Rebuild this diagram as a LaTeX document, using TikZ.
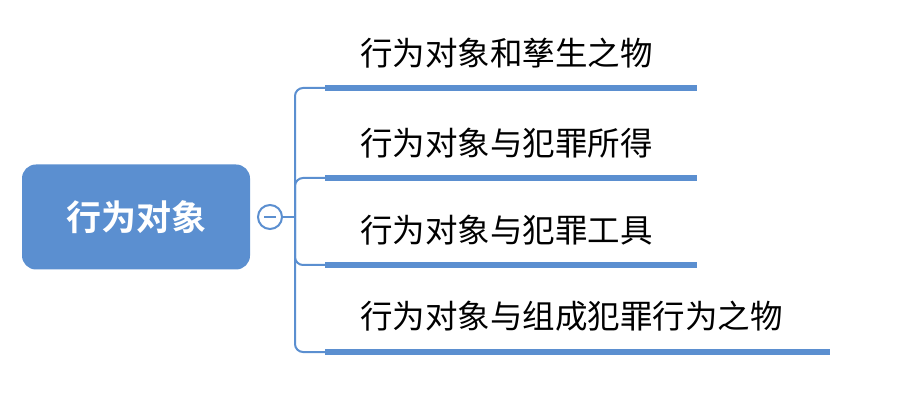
\documentclass[tikz,border=0pt]{standalone}
\usepackage{fontspec}
\newfontfamily\cjk{Noto Sans CJK SC}
\newfontfamily\cjkbold{Noto Sans CJK SC Bold}
\usetikzlibrary{positioning}
\definecolor{mapblue}{HTML}{5B8FD0}
\begin{document}
\begin{tikzpicture}[x=1pt,y=-1pt]
  \tikzset{root/.style={fill=mapblue, rounded corners=14pt, minimum width=228pt, minimum height=105pt, text=white, font=\cjkbold\fontsize{35}{38}\selectfont},
    branch/.style={draw=mapblue, line width=2pt, rounded corners=8pt},
    bar/.style={draw=mapblue, line width=6pt},
    leaf/.style={anchor=south west, inner sep=0pt, font=\cjk\fontsize{32.5}{36}\selectfont}}
  \useasboundingbox (0,0) rectangle (913,403);

  \node[root] (root) at (136,217) {行为对象};
  \node[circle, draw=mapblue, line width=2pt, fill=white, minimum size=24pt, inner sep=0pt] (fold) at (270,217) {};
  \draw[mapblue, line width=2pt] ([xshift=-6pt]fold.center) -- ([xshift=6pt]fold.center);
  \coordinate (hub) at (295,217);
  \draw[branch] (fold.east) -- (hub);

  \foreach \y/\len/\txt [count=\i] in {88/697/行为对象和孳生之物, 178/697/行为对象与犯罪所得, 265/697/行为对象与犯罪工具, 352/830/行为对象与组成犯罪行为之物}{
    \coordinate (s\i) at (325,\y);
    \coordinate (e\i) at (\len,\y);
    \draw[branch] (hub) |- (s\i);
    \draw[bar] (s\i) -- (e\i);
    \node[leaf] (t\i) at (360,\y-20) {\txt};
  }
\end{tikzpicture}
\end{document}
